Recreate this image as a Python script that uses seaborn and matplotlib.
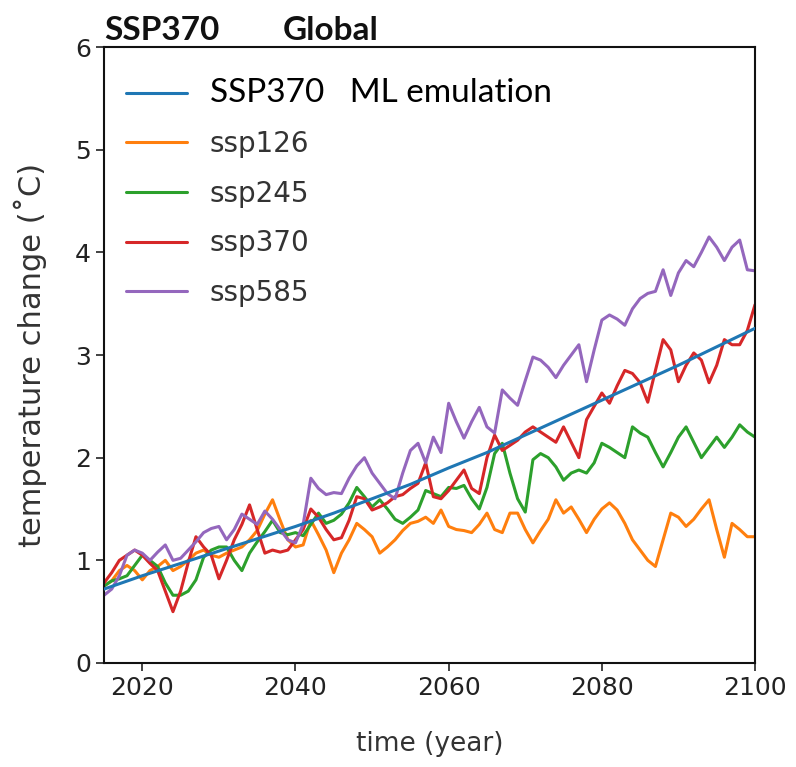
import matplotlib
matplotlib.use("Agg")
import matplotlib.pyplot as plt
import seaborn as sns
import numpy as np
import pandas as pd

years = np.arange(2015, 2101)

ml_years = [2015, 2020, 2025, 2030, 2035, 2040, 2045, 2050, 2055,
            2060, 2065, 2070, 2075, 2080, 2085, 2090, 2095, 2100]
ml_emulation = [0.72, 0.85, 0.97, 1.09, 1.21, 1.33, 1.46, 1.60, 1.74,
                1.90, 2.05, 2.22, 2.39, 2.56, 2.73, 2.90, 3.08, 3.26]

ssp126 = [0.75, 0.80, 0.90, 0.95, 0.90, 0.81, 0.90, 0.94, 1.00, 0.90,
          0.94, 1.00, 1.07, 1.10, 1.05, 1.03, 1.07, 1.10, 1.13, 1.20,
          1.29, 1.45, 1.59, 1.39, 1.20, 1.13, 1.15, 1.39, 1.25, 1.10,
          0.88, 1.07, 1.20, 1.36, 1.30, 1.23, 1.07, 1.13, 1.20, 1.29,
          1.36, 1.38, 1.42, 1.36, 1.49, 1.33, 1.30, 1.29, 1.27, 1.35,
          1.46, 1.30, 1.27, 1.46, 1.46, 1.30, 1.17, 1.29, 1.40, 1.59,
          1.46, 1.52, 1.40, 1.27, 1.40, 1.50, 1.56, 1.49, 1.36, 1.20,
          1.10, 1.00, 0.94, 1.20, 1.46, 1.42, 1.33, 1.40, 1.50, 1.59,
          1.30, 1.03, 1.36, 1.30, 1.23, 1.23]

ssp245 = [0.75, 0.80, 0.82, 0.85, 0.95, 1.05, 1.00, 0.94, 0.78, 0.66,
          0.66, 0.70, 0.81, 1.03, 1.10, 1.13, 1.13, 1.00, 0.90, 1.07,
          1.18, 1.28, 1.39, 1.27, 1.25, 1.27, 1.24, 1.35, 1.46, 1.36,
          1.39, 1.45, 1.56, 1.71, 1.62, 1.52, 1.59, 1.50, 1.40, 1.36,
          1.42, 1.49, 1.68, 1.65, 1.62, 1.71, 1.70, 1.73, 1.60, 1.50,
          1.71, 2.04, 2.14, 1.85, 1.60, 1.47, 1.98, 2.04, 2.00, 1.91,
          1.78, 1.85, 1.88, 1.85, 1.95, 2.14, 2.10, 2.05, 2.00, 2.30,
          2.24, 2.20, 2.05, 1.91, 2.05, 2.20, 2.30, 2.15, 2.00, 2.10,
          2.20, 2.10, 2.20, 2.32, 2.25, 2.20]

ssp370 = [0.78, 0.88, 1.00, 1.05, 1.10, 1.05, 0.97, 0.90, 0.70, 0.50,
          0.70, 0.98, 1.23, 1.13, 1.05, 0.82, 1.00, 1.20, 1.35, 1.54,
          1.30, 1.07, 1.10, 1.08, 1.10, 1.20, 1.30, 1.50, 1.42, 1.30,
          1.20, 1.22, 1.39, 1.62, 1.60, 1.49, 1.52, 1.56, 1.62, 1.64,
          1.70, 1.75, 1.95, 1.62, 1.60, 1.68, 1.78, 1.88, 1.70, 1.65,
          2.00, 2.22, 2.07, 2.12, 2.17, 2.25, 2.30, 2.25, 2.20, 2.15,
          2.30, 2.15, 2.00, 2.37, 2.50, 2.63, 2.53, 2.70, 2.85, 2.82,
          2.73, 2.54, 2.85, 3.15, 3.05, 2.74, 2.90, 3.02, 2.95, 2.73,
          2.90, 3.15, 3.10, 3.10, 3.24, 3.49]

ssp585 = [0.66, 0.72, 0.85, 1.05, 1.10, 1.07, 1.00, 1.08, 1.15, 1.00,
          1.02, 1.10, 1.18, 1.27, 1.31, 1.33, 1.20, 1.30, 1.45, 1.40,
          1.35, 1.48, 1.40, 1.30, 1.20, 1.17, 1.35, 1.80, 1.70, 1.64,
          1.66, 1.65, 1.80, 1.92, 2.00, 1.85, 1.75, 1.65, 1.60, 1.85,
          2.07, 2.14, 1.95, 2.20, 2.05, 2.53, 2.35, 2.19, 2.35, 2.49,
          2.30, 2.24, 2.66, 2.58, 2.51, 2.75, 2.98, 2.95, 2.88, 2.78,
          2.90, 3.00, 3.10, 2.74, 3.05, 3.34, 3.39, 3.35, 3.29, 3.45,
          3.55, 3.60, 3.62, 3.83, 3.58, 3.80, 3.92, 3.86, 4.00, 4.15,
          4.05, 3.92, 4.05, 4.12, 3.83, 3.82]

scenarios = ["ssp126", "ssp245", "ssp370", "ssp585"]
scenario_values = [ssp126, ssp245, ssp370, ssp585]
colors = ["#ff7f0e", "#2ca02c", "#d62728", "#9467bd"]


def main():
    sns.set_style("ticks")
    plt.rcParams["font.family"] = ["DejaVu Sans"]

    fig = plt.figure(figsize=(7.96, 7.67), dpi=100)
    ax = fig.add_axes([0.1307, 0.1356, 0.8178, 0.8031])

    ml = pd.DataFrame({"year": ml_years, "temp": ml_emulation})
    sns.lineplot(ml, x="year", y="temp", color="#1f77b4", lw=2.2,
                 label="SSP370   ML emulation", ax=ax, zorder=3)

    for name, vals, c in zip(scenarios, scenario_values, colors):
        df = pd.DataFrame({"year": years, "temp": vals})
        sns.lineplot(df, x="year", y="temp", color=c, lw=2.2, label=name, ax=ax)

    ax.set_xlim(2015, 2100)
    ax.set_ylim(0, 6)
    ax.set_xticks([2020, 2040, 2060, 2080, 2100])
    ax.set_yticks(range(0, 7))
    ax.tick_params(labelsize=18, length=6, width=1.2, colors="#222222")
    for sp in ax.spines.values():
        sp.set_linewidth(1.5)
        sp.set_color("#111111")

    # positions tuned against the reference image
    ax.set_xlabel("time (year)", fontsize=19, color="#333333", labelpad=22)
    ax.set_ylabel("temperature change (˚C)", fontsize=22, color="#333333",
                  labelpad=20)

    ax.text(0.0, 1.004, "SSP370", transform=ax.transAxes,
            fontsize=24, fontweight="bold", family="Lato", va="bottom",
            ha="left", color="#111111")
    ax.text(0.275, 1.004, "Global", transform=ax.transAxes,
            fontsize=24, fontweight="bold", family="Lato", va="bottom",
            ha="left", color="#111111")

    leg = ax.legend(loc="upper left", frameon=False, fontsize=20,
                    handlelength=2.2, labelspacing=0.78,
                    borderaxespad=0.4, bbox_to_anchor=(0.0, 0.985))
    texts = leg.get_texts()
    for t in texts:
        t.set_color("#333333")
    texts[0].set_fontfamily("Lato")
    texts[0].set_fontsize(24)
    texts[0].set_color("black")

    fig.savefig("out.png", dpi=100)
    plt.close(fig)


if __name__ == "__main__":
    main()
